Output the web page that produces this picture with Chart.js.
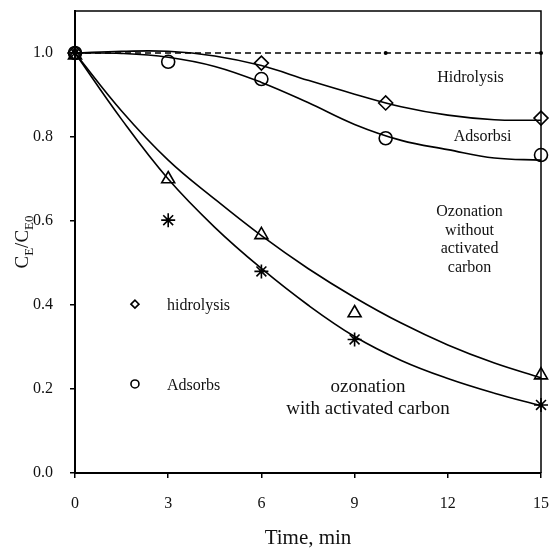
<!DOCTYPE html>
<html lang="en">
<head>
    <meta charset="UTF-8">
    <title>CE/CE0 vs time</title>
    <script src="https://cdn.jsdelivr.net/npm/chart.js"></script>
    <style>
        body { margin: 0; padding: 0; background: #fff; }
        .wrap { width: 557px; height: 548px; position: relative; }
    </style>
</head>
<body>
    <div class="wrap"><canvas id="kinetics"></canvas></div>

    <script>
        // measured points
        const hidroT = [0, 6, 10, 15];
        const hidroV = [1.0, 0.976, 0.881, 0.845];
        const adsT = [0, 3, 6, 10, 15];
        const adsV = [1.0, 0.979, 0.938, 0.797, 0.757];
        const ozoT = [0, 3, 6, 9, 15];
        const ozoV = [0.995, 0.70, 0.567, 0.381, 0.233];
        const ozoAcT = [0, 3, 6, 9, 15];
        const ozoAcV = [1.0, 0.602, 0.48, 0.318, 0.162];

        // dashed reference line
        const refT = [0, 10, 15];
        const refV = [1.0, 1.0, 1.0];

        // fitted curves
        const fitT = [0, 1.5, 3, 4.5, 6, 7.5, 9, 10.5, 12, 13.5, 15];
        const hidroFit = [1.0, 1.004, 1.004, 0.993, 0.97, 0.935, 0.902, 0.872, 0.852, 0.841, 0.84];
        const adsFit = [1.0, 0.999, 0.99, 0.968, 0.93, 0.882, 0.83, 0.792, 0.77, 0.75, 0.745];
        const ozoFit = [1.0, 0.862, 0.745, 0.652, 0.565, 0.487, 0.418, 0.357, 0.305, 0.262, 0.227];
        const ozoAcFit = [1.0, 0.842, 0.70, 0.585, 0.487, 0.40, 0.325, 0.268, 0.225, 0.19, 0.16];

        const xTicks = [0, 3, 6, 9, 12, 15];
        const yTicks = [0.0, 0.2, 0.4, 0.6, 0.8, 1.0];

        // in-plot legend (data coordinates)
        const legendItems = [
            { style: 'rectRot', label: 'hidrolysis', x: 1.93, y: 0.402 },
            { style: 'circle', label: 'Adsorbs', x: 1.93, y: 0.212 }
        ];

        const notes = [
            { lines: ['Hidrolysis'], x: 12.73, y: 0.94, size: 16 },
            { lines: ['Adsorbsi'], x: 13.12, y: 0.80, size: 16 },
            { lines: ['Ozonation', 'without', 'activated', 'carbon'], x: 12.7, y: 0.621, size: 16 },
            { lines: ['ozonation', 'with activated carbon'], x: 9.43, y: 0.205, size: 19 }
        ];

        const pts = (xs, ys) => xs.map((x, i) => ({ x: x, y: ys[i] }));
        const SERIF = '"Liberation Serif", "DejaVu Serif", serif';

        function curve(xs, ys) {
            return {
                data: pts(xs, ys),
                borderColor: '#000',
                borderWidth: 1.6,
                pointRadius: 0,
                showLine: true,
                tension: 0.4,
                clip: false
            };
        }

        function marks(xs, ys, style, r) {
            return {
                data: pts(xs, ys),
                showLine: false,
                pointStyle: style,
                pointRadius: r,
                pointBorderWidth: 1.6,
                pointBorderColor: '#000',
                pointBackgroundColor: 'rgba(255,255,255,0)',
                clip: false
            };
        }

        const extras = {
            id: 'extras',
            afterDraw(chart) {
                const ctx = chart.ctx;
                const a = chart.chartArea;
                const xs = chart.scales.x, ys = chart.scales.y;

                // top and right frame
                ctx.save();
                ctx.strokeStyle = '#000';
                ctx.lineWidth = 1.5;
                ctx.beginPath();
                ctx.moveTo(a.left, a.top);
                ctx.lineTo(a.right, a.top);
                ctx.lineTo(a.right, a.bottom);
                ctx.stroke();
                ctx.restore();

                ctx.save();
                ctx.fillStyle = '#111';
                ctx.textAlign = 'center';
                ctx.textBaseline = 'middle';
                notes.forEach(n => {
                    ctx.font = n.size + 'px ' + SERIF;
                    const cx = xs.getPixelForValue(n.x);
                    const cy = ys.getPixelForValue(n.y);
                    const lh = n.size * 1.15;
                    n.lines.forEach((t, i) => ctx.fillText(t, cx, cy + i * lh));
                });

                // legend
                ctx.font = '16px ' + SERIF;
                ctx.textAlign = 'left';
                legendItems.forEach(it => {
                    const px = xs.getPixelForValue(it.x);
                    const py = ys.getPixelForValue(it.y);
                    ctx.strokeStyle = '#000';
                    ctx.fillStyle = 'rgba(0,0,0,0)';
                    Chart.helpers.drawPoint(ctx, { pointStyle: it.style, radius: 4, rotation: 0, borderWidth: 2 }, px, py);
                    ctx.fillStyle = '#111';
                    ctx.fillText(it.label, px + 32, py + 2);
                });

                // x title
                ctx.textAlign = 'center';
                ctx.font = '21px ' + SERIF;
                ctx.fillText('Time, min', (a.left + a.right) / 2, 538);

                // y title with subscripts
                ctx.translate(28, 242);
                ctx.rotate(-Math.PI / 2);
                ctx.textAlign = 'left';
                ctx.textBaseline = 'alphabetic';
                const big = '19px ' + SERIF, small = '13px ' + SERIF;
                const parts = [['C', big, 0], ['E', small, 5], ['/C', big, 0], ['E0', small, 5]];
                let w = 0;
                parts.forEach(p => { ctx.font = p[1]; w += ctx.measureText(p[0]).width; });
                let x = -w / 2;
                parts.forEach(p => {
                    ctx.font = p[1];
                    ctx.fillText(p[0], x, p[2]);
                    x += ctx.measureText(p[0]).width;
                });
                ctx.restore();
            }
        };

        const ctx = document.getElementById('kinetics').getContext('2d');
        const chart = new Chart(ctx, {
            type: 'scatter',
            data: {
                datasets: [
                    Object.assign(curve(refT, refV), {
                        borderDash: [6, 4], borderWidth: 1.5,
                        pointRadius: [0, 2, 2], pointBackgroundColor: '#000', pointBorderWidth: 0,
                        tension: 0
                    }),
                    curve(fitT, hidroFit),
                    curve(fitT, adsFit),
                    curve(fitT, ozoFit),
                    curve(fitT, ozoAcFit),
                    marks(hidroT, hidroV, 'rectRot', 7),
                    marks(adsT, adsV, 'circle', 6.5),
                    marks(ozoT, ozoV, 'triangle', 7.5),
                    marks(ozoAcT, ozoAcV, 'star', 7)
                ]
            },
            options: {
                responsive: true,
                maintainAspectRatio: false,
                animation: false,
                layout: { padding: { top: 11, right: 16, left: 0, bottom: 0 } },
                plugins: { legend: { display: false }, tooltip: { enabled: false } },
                scales: {
                    x: {
                        type: 'linear',
                        min: 0, max: 15,
                        afterBuildTicks: s => { s.ticks = xTicks.map(v => ({ value: v })); },
                        afterFit: s => { s.height = 75; s.paddingLeft = 0; s.paddingRight = 0; },
                        border: { color: '#000', width: 2 },
                        grid: { drawOnChartArea: false, color: '#000', lineWidth: 1.5, tickLength: 5 },
                        ticks: { color: '#111', padding: 16, maxRotation: 0, font: { family: SERIF, size: 16 } }
                    },
                    y: {
                        type: 'linear',
                        min: 0, max: 1.1,
                        afterBuildTicks: s => { s.ticks = yTicks.map(v => ({ value: v })); },
                        afterFit: s => { s.width = 75; s.paddingTop = 0; s.paddingBottom = 0; },
                        border: { color: '#000', width: 2 },
                        grid: { drawOnChartArea: false, color: '#000', lineWidth: 1.5, tickLength: 5 },
                        ticks: { color: '#111', padding: 17, font: { family: SERIF, size: 16 },
                                 callback: v => v.toFixed(1) }
                    }
                }
            },
            plugins: [extras]
        });
    </script>
</body>
</html>
